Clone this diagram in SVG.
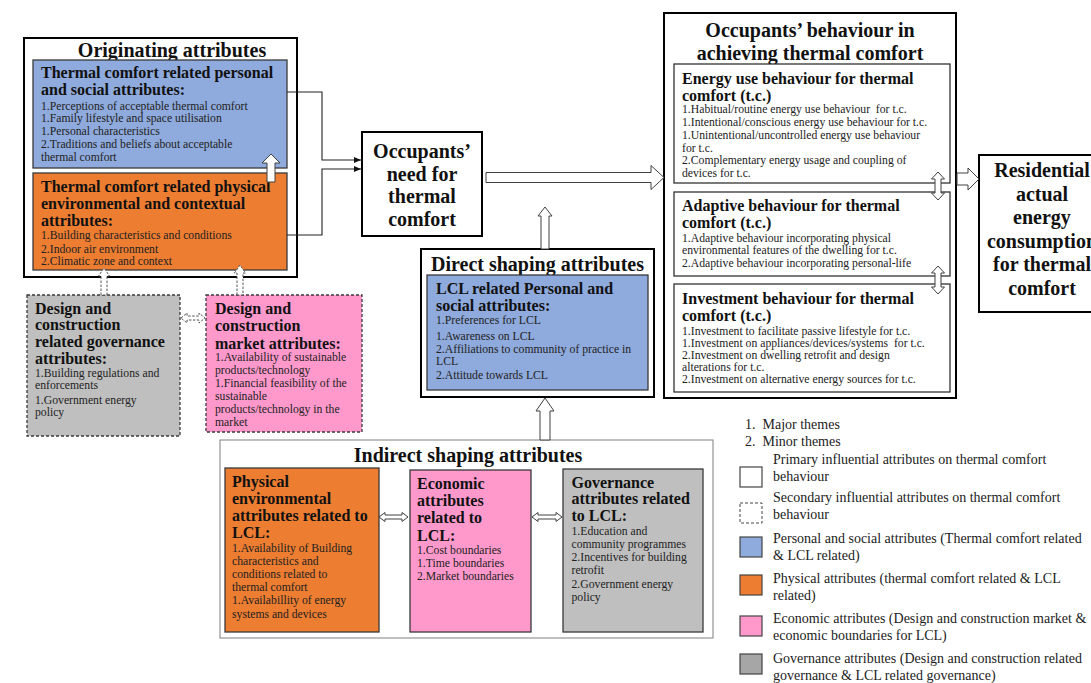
<svg xmlns="http://www.w3.org/2000/svg" width="1091" height="683" viewBox="0 0 1091 683">
<style>
text{font-family:"Liberation Serif","Times New Roman",serif;fill:#111}
.t20{font-size:20px;font-weight:bold;text-anchor:middle}
.h{font-size:16px;font-weight:bold}
.i{font-size:11.7px;fill:#222}
.lg{font-size:14px;fill:#222}
.outer{fill:#fff;stroke:#000;stroke-width:2}
.thin{fill:#fff;stroke:#7f7f7f;stroke-width:1}
.inner{fill:#fff;stroke:#333;stroke-width:1.3}
.blue{fill:#8FAADC;stroke:#3a3a3a;stroke-width:1.3}
.orange{fill:#ED7D31;stroke:#3a3a3a;stroke-width:1.3}
.pink{fill:#FF99CC;stroke:#3a3a3a;stroke-width:1.3}
.gray{fill:#BFBFBF;stroke:#3a3a3a;stroke-width:1.3}
.dash{stroke-dasharray:3 2}
.ha{fill:#fff;stroke:#404040;stroke-width:1}
.hd{fill:#fff;stroke:#555;stroke-width:1;stroke-dasharray:2.5 1.5}
.ln{fill:none;stroke:#222;stroke-width:1.1}
</style>
<defs>
<marker id="ah" markerWidth="8" markerHeight="8" refX="7" refY="4" orient="auto" markerUnits="userSpaceOnUse">
<path d="M0,1 L7,4 L0,7 Z" fill="#111"/>
</marker>
</defs>

<g id="originating">
<rect class="outer" x="24" y="38" width="273" height="239"/>
<text class="t20" x="172" y="57">Originating attributes</text>
</g>
<g id="tc-personal">
<rect class="blue" x="33" y="60" width="254" height="108"/>
<text class="h" x="41" y="78">Thermal comfort related personal</text>
<text class="h" x="41" y="95">and social attributes:</text>
<text class="i" x="41" y="109.5">1.Perceptions of acceptable thermal comfort</text>
<text class="i" x="41" y="122">1.Family lifestyle and space utilisation</text>
<text class="i" x="41" y="134.5">1.Personal characteristics</text>
<text class="i" x="41" y="148">2.Traditions and beliefs about acceptable</text>
<text class="i" x="41" y="160.5">thermal comfort</text>
</g>
<g id="tc-physical">
<rect class="orange" x="33" y="173" width="254" height="97"/>
<text class="h" x="41" y="191.5">Thermal comfort related physical</text>
<text class="h" x="41" y="208.5">environmental and contextual</text>
<text class="h" x="41" y="225.5">attributes:</text>
<text class="i" x="41" y="239">1.Building characteristics and conditions</text>
<text class="i" x="41" y="252.5">2.Indoor air environment</text>
<text class="i" x="41" y="265">2.Climatic zone and context</text>
</g>
<g id="design-governance">
<rect class="gray dash" x="27" y="295" width="153" height="141"/>
<text class="h" x="35" y="313.5">Design and</text>
<text class="h" x="35" y="330">construction</text>
<text class="h" x="35" y="346.5">related governance</text>
<text class="h" x="35" y="363.5">attributes:</text>
<text class="i" x="35" y="377">1.Building regulations and</text>
<text class="i" x="35" y="389">enforcements</text>
<text class="i" x="35" y="403.5">1.Government energy</text>
<text class="i" x="35" y="416">policy</text>
</g>
<g id="design-market">
<rect class="pink dash" x="206" y="295" width="156" height="137"/>
<text class="h" x="215" y="314">Design and</text>
<text class="h" x="215" y="331">construction</text>
<text class="h" x="215" y="348.5">market attributes:</text>
<text class="i" x="215" y="361">1.Availability of sustainable</text>
<text class="i" x="215" y="374">products/technology</text>
<text class="i" x="215" y="387">1.Financial feasibility of the</text>
<text class="i" x="215" y="399.5">sustainable</text>
<text class="i" x="215" y="413">products/technology in the</text>
<text class="i" x="215" y="426">market</text>
</g>
<g id="need">
<rect class="outer" x="362" y="132" width="120" height="104"/>
<text class="t20" x="422" y="158">Occupants’</text>
<text class="t20" x="422" y="180.5">need for</text>
<text class="t20" x="422" y="203">thermal</text>
<text class="t20" x="422" y="225.5">comfort</text>
</g>
<g id="direct">
<rect class="outer" x="421" y="249" width="233" height="148"/>
<text class="t20" x="537.5" y="271">Direct shaping attributes</text>
</g>
<g id="lcl-personal">
<rect class="blue" x="427" y="275" width="221" height="115"/>
<text class="h" x="436" y="294">LCL related Personal and</text>
<text class="h" x="436" y="310.5">social attributes:</text>
<text class="i" x="436" y="324">1.Preferences for LCL</text>
<text class="i" x="436" y="339.5">1.Awareness on LCL</text>
<text class="i" x="436" y="352.5">2.Affiliations to community of practice in</text>
<text class="i" x="436" y="365">LCL</text>
<text class="i" x="436" y="379">2.Attitude towards LCL</text>
</g>
<g id="behaviour">
<rect class="outer" x="664" y="13" width="292" height="385"/>
<text class="t20" x="810" y="36.5">Occupants’ behaviour in</text>
<text class="t20" x="810" y="60">achieving thermal comfort</text>
</g>
<g id="energy-use">
<rect class="inner" x="674" y="64" width="276" height="119"/>
<text class="h" x="682" y="83.5">Energy use behaviour for thermal</text>
<text class="h" x="682" y="100.5">comfort (t.c.)</text>
<text class="i" x="682" y="113" style="white-space:pre">1.Habitual/routine energy use behaviour  for t.c.</text>
<text class="i" x="682" y="126">1.Intentional/conscious energy use behaviour for t.c.</text>
<text class="i" x="682" y="139">1.Unintentional/uncontrolled energy use behaviour</text>
<text class="i" x="682" y="151.5">for t.c.</text>
<text class="i" x="682" y="164">2.Complementary energy usage and coupling of</text>
<text class="i" x="682" y="176.5">devices for t.c.</text>
</g>
<g id="adaptive">
<rect class="inner" x="674" y="192" width="276" height="84"/>
<text class="h" x="682" y="210.5">Adaptive behaviour for thermal</text>
<text class="h" x="682" y="228">comfort (t.c.)</text>
<text class="i" x="682" y="241.5">1.Adaptive behaviour incorporating physical</text>
<text class="i" x="682" y="254">environmental features of the dwelling for t.c.</text>
<text class="i" x="682" y="266.5">2.Adaptive behaviour incorporating personal-life</text>
</g>
<g id="investment">
<rect class="inner" x="674" y="284" width="276" height="108"/>
<text class="h" x="682" y="304">Investment behaviour for thermal</text>
<text class="h" x="682" y="320.5">comfort (t.c.)</text>
<text class="i" x="682" y="334.5">1.Investment to facilitate passive lifestyle for t.c.</text>
<text class="i" x="682" y="346.5" style="white-space:pre">1.Investment on appliances/devices/systems  for t.c.</text>
<text class="i" x="682" y="358.5">2.Investment on dwelling retrofit and design</text>
<text class="i" x="682" y="371">alterations for t.c.</text>
<text class="i" x="682" y="383">2.Investment on alternative energy sources for t.c.</text>
</g>
<g id="residential">
<rect class="outer" x="979" y="155" width="130" height="157"/>
<text class="t20" x="1042" y="177">Residential</text>
<text class="t20" x="1042" y="200.5">actual</text>
<text class="t20" x="1042" y="224">energy</text>
<text class="t20" x="1042" y="247.5">consumption</text>
<text class="t20" x="1042" y="271">for thermal</text>
<text class="t20" x="1042" y="294.5">comfort</text>
</g>
<g id="indirect">
<rect class="thin" x="220" y="440" width="493" height="198"/>
<text class="t20" x="468" y="461.5">Indirect shaping attributes</text>
</g>
<g id="physical-lcl">
<rect class="orange" x="225" y="468" width="154" height="164"/>
<text class="h" x="232" y="487">Physical</text>
<text class="h" x="232" y="504">environmental</text>
<text class="h" x="232" y="521">attributes related to</text>
<text class="h" x="232" y="538">LCL:</text>
<text class="i" x="232" y="552">1.Availability of Building</text>
<text class="i" x="232" y="565">characteristics and</text>
<text class="i" x="232" y="578">conditions related to</text>
<text class="i" x="232" y="591">thermal comfort</text>
<text class="i" x="232" y="604">1.Availabillity of energy</text>
<text class="i" x="232" y="617.5">systems and devices</text>
</g>
<g id="economic-lcl">
<rect class="pink" x="410" y="470" width="121" height="162"/>
<text class="h" x="417" y="489">Economic</text>
<text class="h" x="417" y="506">attributes</text>
<text class="h" x="417" y="523">related to</text>
<text class="h" x="417" y="541">LCL:</text>
<text class="i" x="417" y="554">1.Cost boundaries</text>
<text class="i" x="417" y="567">1.Time boundaries</text>
<text class="i" x="417" y="580">2.Market boundaries</text>
</g>
<g id="governance-lcl">
<rect class="gray" x="563" y="469" width="140" height="163"/>
<text class="h" x="571.5" y="487.5">Governance</text>
<text class="h" x="571.5" y="504">attributes related</text>
<text class="h" x="571.5" y="521">to LCL:</text>
<text class="i" x="571.5" y="535">1.Education and</text>
<text class="i" x="571.5" y="548">community programmes</text>
<text class="i" x="571.5" y="561">2.Incentives for building</text>
<text class="i" x="571.5" y="574">retrofit</text>
<text class="i" x="571.5" y="588">2.Government energy</text>
<text class="i" x="571.5" y="601">policy</text>
</g>
<g id="legend">
<text class="lg" x="745" y="429" style="white-space:pre">1.  Major themes</text>
<text class="lg" x="745" y="446" style="white-space:pre">2.  Minor themes</text>
<rect x="740" y="467" width="22" height="20" fill="#fff" stroke="#444" stroke-width="1.2"/>
<text class="lg" x="773" y="464">Primary influential attributes on thermal comfort</text>
<text class="lg" x="773" y="481">behaviour</text>
<rect x="740" y="503" width="22" height="20" fill="#fff" stroke="#444" stroke-width="1" stroke-dasharray="3 2"/>
<text class="lg" x="773" y="502">Secondary influential attributes on thermal comfort</text>
<text class="lg" x="773" y="519">behaviour</text>
<rect x="740" y="537" width="22" height="20" fill="#8FAADC" stroke="#444" stroke-width="1.2"/>
<text class="lg" x="773" y="543">Personal and social attributes (Thermal comfort related</text>
<text class="lg" x="773" y="560">&amp; LCL related)</text>
<rect x="740" y="575" width="22" height="20" fill="#ED7D31" stroke="#444" stroke-width="1.2"/>
<text class="lg" x="773" y="583">Physical attributes (thermal comfort related &amp; LCL</text>
<text class="lg" x="773" y="600">related)</text>
<rect x="740" y="616" width="22" height="20" fill="#FF99CC" stroke="#444" stroke-width="1.2"/>
<text class="lg" x="773" y="623">Economic attributes (Design and construction market &amp;</text>
<text class="lg" x="773" y="640">economic boundaries for LCL)</text>
<rect x="740" y="654" width="22" height="20" fill="#A6A6A6" stroke="#444" stroke-width="1.2"/>
<text class="lg" x="773" y="663">Governance attributes (Design and construction related</text>
<text class="lg" x="773" y="680">governance &amp; LCL related governance)</text>
</g>

<g id="connectors">
<path class="ln" d="M287,92 H322 V160 H361" marker-end="url(#ah)"/>
<path class="ln" d="M287,235 H322 V169 H361" marker-end="url(#ah)"/>
<polygon class="ha" points="267,182 267,163 262,163 271,154 280,163 275,163 275,182"/>
<polygon class="hd" points="101,295 101,276 98.5,276 104,268 109.5,276 107,276 107,295"/>
<polygon class="hd" points="237,295 237,273 234.5,273 240,265 245.5,273 243,273 243,295"/>
<polygon class="hd" points="181,318 187,313 187,316 199,316 199,313 205,318 199,323 199,320 187,320 187,323"/>
<polygon class="ha" points="486,172.5 651,172.5 651,165.5 664,177.5 651,189.5 651,182.5 486,182.5"/>
<polygon class="ha" points="541,249 541,216 538,216 545,207 552,216 549,216 549,249"/>
<polygon class="ha" points="540,440 540,411 536,411 545,398 554,411 550,411 550,440"/>
<polygon class="ha" points="379,517 385,512.5 385,515 402,515 402,512.5 408,517 402,521.5 402,519 385,519 385,521.5"/>
<polygon class="ha" points="532,517 538,512.5 538,515 556,515 556,512.5 562,517 556,521.5 556,519 538,519 538,521.5"/>
<polygon class="ha" points="938,172 944.5,179 941,179 941,193 944.5,193 938,200 931.5,193 935,193 935,179 931.5,179"/>
<polygon class="ha" points="938,266 944.5,273 941,273 941,287 944.5,287 938,294 931.5,287 935,287 935,273 931.5,273"/>
<polygon class="ha" points="957,173 968,173 968,168 979,179 968,190 968,185 957,185"/>
</g>
</svg>
